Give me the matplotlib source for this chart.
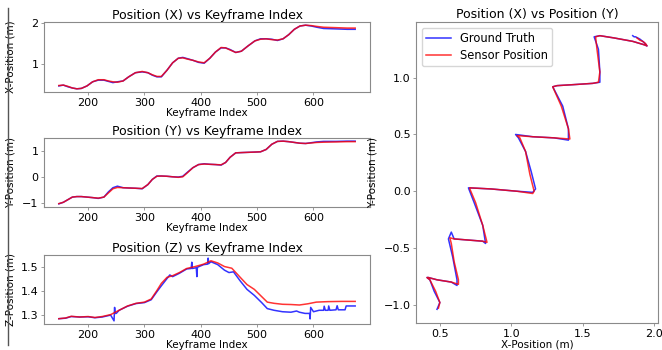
import numpy as np
import matplotlib
matplotlib.use('Agg')
import matplotlib.pyplot as plt
from matplotlib.lines import Line2D

# keyframe samples shared by the X / Y traces
keyframes = [148, 156, 164, 172, 180, 188, 198, 208, 218, 228, 236, 244, 252, 262,
             272, 284, 296, 306, 314, 322, 330, 340, 350, 360, 368, 376, 386, 396,
             406, 416, 426, 436, 444, 452, 462, 472, 484, 496, 506, 516, 526, 536,
             546, 556, 566, 576, 586, 596, 606, 618, 640, 660, 674]

sensor_x = [0.49, 0.50, 0.47, 0.43, 0.41, 0.42, 0.48, 0.58, 0.63, 0.63, 0.60, 0.58, 0.57, 0.60,
            0.70, 0.80, 0.83, 0.80, 0.75, 0.71, 0.71, 0.86, 1.04, 1.15, 1.16, 1.13, 1.10, 1.06,
            1.04, 1.15, 1.30, 1.41, 1.40, 1.35, 1.29, 1.32, 1.45, 1.57, 1.61, 1.62, 1.60, 1.59,
            1.62, 1.72, 1.85, 1.93, 1.95, 1.94, 1.92, 1.90, 1.89, 1.88, 1.88]
sensor_y = [-1.03, -0.98, -0.88, -0.78, -0.76, -0.76, -0.78, -0.80, -0.82, -0.78, -0.62, -0.46, -0.41, -0.42,
            -0.43, -0.44, -0.45, -0.30, -0.10, 0.02, 0.03, 0.02, 0.00, -0.02, 0.00, 0.15, 0.35, 0.47,
            0.49, 0.48, 0.47, 0.46, 0.55, 0.75, 0.92, 0.93, 0.94, 0.95, 0.96, 1.05, 1.25, 1.36,
            1.37, 1.35, 1.32, 1.29, 1.28, 1.30, 1.32, 1.33, 1.34, 1.35, 1.35]

gt_x = [0.48, 0.50, 0.46, 0.43, 0.41, 0.42, 0.48, 0.58, 0.62, 0.62, 0.59, 0.56, 0.58, 0.60,
        0.70, 0.80, 0.82, 0.80, 0.74, 0.70, 0.70, 0.86, 1.04, 1.15, 1.17, 1.14, 1.10, 1.05,
        1.03, 1.15, 1.30, 1.40, 1.40, 1.36, 1.29, 1.32, 1.45, 1.57, 1.62, 1.62, 1.61, 1.58,
        1.62, 1.72, 1.85, 1.93, 1.95, 1.93, 1.90, 1.87, 1.86, 1.85, 1.85]
gt_y = [-1.04, -0.98, -0.88, -0.78, -0.76, -0.76, -0.78, -0.80, -0.83, -0.78, -0.58, -0.42, -0.36, -0.42,
        -0.43, -0.44, -0.46, -0.30, -0.10, 0.03, 0.03, 0.02, 0.00, -0.01, 0.02, 0.17, 0.35, 0.47,
        0.50, 0.48, 0.47, 0.45, 0.55, 0.75, 0.92, 0.93, 0.94, 0.95, 0.96, 1.05, 1.25, 1.36,
        1.37, 1.35, 1.32, 1.29, 1.28, 1.31, 1.34, 1.36, 1.36, 1.37, 1.37]

# Z traces
sensor_z_k = [148, 160, 170, 185, 200, 212, 225, 240, 255, 270, 285, 300, 312, 322, 330, 340,
              350, 362, 375, 390, 405, 418, 430, 442, 455, 470, 482, 495, 508, 518, 530, 545,
              560, 575, 590, 605, 625, 650, 674]
sensor_z = [1.283, 1.286, 1.293, 1.290, 1.292, 1.288, 1.292, 1.300, 1.318, 1.336, 1.347, 1.352,
            1.365, 1.400, 1.430, 1.455, 1.462, 1.475, 1.492, 1.500, 1.510, 1.524, 1.515, 1.500,
            1.493, 1.455, 1.425, 1.405, 1.375, 1.352, 1.347, 1.343, 1.342, 1.340, 1.345, 1.352,
            1.354, 1.355, 1.355]

gt_z_k = [148, 160, 170, 185, 200, 212, 225, 240, 246, 247, 248, 250, 255, 270, 285, 300, 312,
          322, 330, 340, 345, 350, 362, 375, 383, 384, 385, 392, 393, 394, 405, 412, 413, 414,
          418, 430, 442, 450, 458, 470, 482, 495, 508, 518, 530, 545, 560, 570, 575, 585, 593,
          594, 595, 600, 610, 618, 619, 621, 626, 627, 629, 640, 642, 644, 656, 658, 674]
gt_z = [1.283, 1.285, 1.292, 1.290, 1.291, 1.287, 1.290, 1.298, 1.274, 1.330, 1.305, 1.305,
        1.318, 1.335, 1.346, 1.350, 1.362, 1.395, 1.420, 1.450, 1.465, 1.458, 1.472, 1.490,
        1.492, 1.518, 1.492, 1.495, 1.458, 1.497, 1.508, 1.510, 1.535, 1.512, 1.520, 1.508,
        1.485, 1.475, 1.478, 1.440, 1.405, 1.380, 1.350, 1.325, 1.318, 1.312, 1.310, 1.315,
        1.310, 1.305, 1.305, 1.282, 1.330, 1.312, 1.318, 1.318, 1.335, 1.318, 1.318, 1.336,
        1.318, 1.320, 1.337, 1.320, 1.320, 1.336, 1.336]

gt_color = 'blue'
sensor_color = 'red'
spine_color = '#8a8a8a'

plt.rcParams['font.family'] = 'DejaVu Sans'
fig = plt.figure(figsize=(6.62, 3.5), dpi=100)

ax_x = fig.add_axes([44 / 662, 1 - 92 / 350, 326 / 662, 70 / 350])
ax_y = fig.add_axes([44 / 662, 1 - 207 / 350, 326 / 662, 69 / 350])
ax_z = fig.add_axes([44 / 662, 1 - 324 / 350, 326 / 662, 69 / 350])
ax_xy = fig.add_axes([416 / 662, 1 - 323 / 350, 242 / 662, 301 / 350])

lw = 1.1

ax_x.plot(keyframes, gt_x, color=gt_color, lw=lw, alpha=0.8)
ax_x.plot(keyframes, sensor_x, color=sensor_color, lw=lw, alpha=0.8)
ax_x.set_title('Position (X) vs Keyframe Index', fontsize=9, pad=2)
ax_x.set_ylabel('X-Position (m)', fontsize=7.5)
ax_x.set_yticks([1, 2])

ax_y.plot(keyframes, gt_y, color=gt_color, lw=lw, alpha=0.8)
ax_y.plot(keyframes, sensor_y, color=sensor_color, lw=lw, alpha=0.8)
ax_y.set_title('Position (Y) vs Keyframe Index', fontsize=9, pad=2)
ax_y.set_ylabel('Y-Position (m)', fontsize=7.5)
ax_y.set_yticks([-1, 0, 1])

ax_z.plot(gt_z_k, gt_z, color=gt_color, lw=lw, alpha=0.8)
ax_z.plot(sensor_z_k, sensor_z, color=sensor_color, lw=lw, alpha=0.8)
ax_z.set_title('Position (Z) vs Keyframe Index', fontsize=9, pad=2)
ax_z.set_ylabel('Z-Position (m)', fontsize=7.5)
ax_z.set_yticks([1.3, 1.4, 1.5])

for ax in (ax_x, ax_y, ax_z):
    ax.set_xlabel('Keyframe Index', fontsize=7.5, labelpad=0)
    ax.set_xticks([200, 300, 400, 500, 600])
    ax.yaxis.set_label_coords(-0.088, 0.5)

ax_xy.plot(gt_x, gt_y, color=gt_color, lw=lw, alpha=0.8, label='Ground Truth')
ax_xy.plot(sensor_x, sensor_y, color=sensor_color, lw=lw, alpha=0.8, label='Sensor Position')
ax_xy.set_title('Position (X) vs Position (Y)', fontsize=9, pad=3)
ax_xy.set_xlabel('X-Position (m)', fontsize=7.5, labelpad=1)
ax_xy.set_ylabel('Y-Position (m)', fontsize=7.5)
ax_xy.yaxis.set_label_coords(-0.16, 0.5)
ax_xy.set_xticks([0.5, 1.0, 1.5, 2.0])
ax_xy.set_yticks([-1.0, -0.5, 0.0, 0.5, 1.0])
ax_xy.legend(loc='upper left', fontsize=8.3, handlelength=2.1, borderpad=0.4, labelspacing=0.3)

for ax in (ax_x, ax_y, ax_z, ax_xy):
    ax.tick_params(labelsize=8, length=2.5, width=0.6, pad=1.5, color=spine_color)
    for s in ax.spines.values():
        s.set_color(spine_color)
        s.set_linewidth(0.8)

# left border strip from the screenshot
fig.add_artist(Line2D([8 / 662, 8 / 662], [1 - 8 / 350, 1 - 345 / 350],
                      transform=fig.transFigure, color='#555555', lw=1))

fig.savefig('out.png', dpi=100)
